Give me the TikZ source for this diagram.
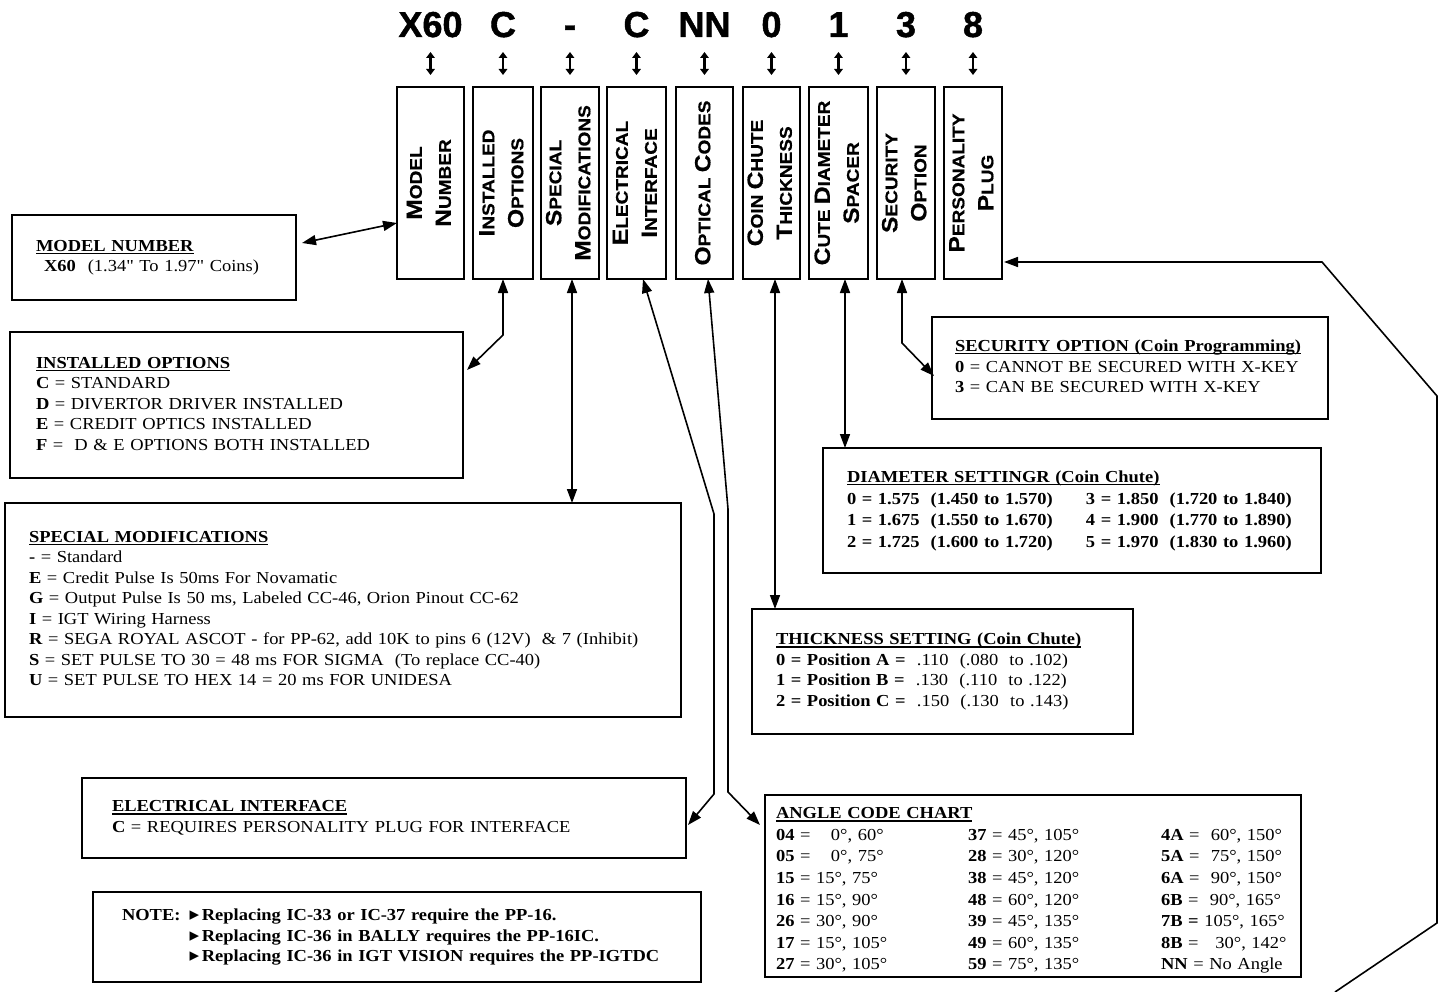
\documentclass[tikz,border=0pt]{standalone}
\usepackage{fontspec}
\usepackage{graphicx}
\setmainfont{Liberation Serif}[FakeStretch=1.1]
\newfontfamily\qfont{Liberation Serif}[FakeStretch=1.1]
\newfontfamily\hdrfont{Liberation Sans Bold}[FakeBold=1.2]
\newfontfamily\vfont{Liberation Sans Bold}[FakeStretch=1.12, FakeBold=0.6]
\newfontfamily\dejavu{DejaVu Sans}
\usetikzlibrary{arrows.meta,calc}
\newcommand\SCx[2]{{\fontsize{22}{29}\selectfont #1}#2}
\newcommand\vlab[1]{\makebox[0pt]{\rotatebox{90}{\begin{tabular}{@{}c@{}}#1\end{tabular}}}}
\newcommand\hd[1]{\setbox0\hbox{\bfseries #1}\rlap{\rule[-2.8pt]{\wd0}{1.4pt}}\box0}
\newcommand\tri{{\dejavu\fontsize{19}{19}\selectfont ▸}}
\begin{document}
\begin{tikzpicture}[x=1pt,y=-1pt,
  hdr/.style={font=\hdrfont\fontsize{36}{36}\selectfont, anchor=base, inner sep=0pt, outer sep=0pt},
  vbox/.style={draw, line width=2pt, inner sep=0pt, outer sep=0pt, minimum height=192pt, font=\vfont\fontsize{17}{29}\selectfont},
  ibox/.style={draw, line width=2pt, anchor=north west, align=left, inner ysep=0pt, outer sep=0pt, font=\fontsize{16.8}{20.5}\selectfont},
  conn/.style={line width=1.6pt, -{Triangle[length=14pt,width=10pt]}},
  dconn/.style={line width=1.6pt, {Triangle[length=14pt,width=10pt]}-{Triangle[length=14pt,width=10pt]}},
  tick/.style={line width=2.4pt, {Triangle[length=6pt,width=8.5pt]}-{Triangle[length=6pt,width=8.5pt]}},
]
\useasboundingbox (0,0) rectangle (1442,992);

% header code
\node[hdr] (h1) at (430.5,37) {X60};
\node[hdr] (h2) at (503,37) {C};
\node[hdr] (h3) at (570,37) {-};
\node[hdr] (h4) at (636.5,37) {C};
\node[hdr] (h5) at (704.5,37) {NN};
\node[hdr] (h6) at (771.5,37) {0};
\node[hdr] (h7) at (838.5,37) {1};
\node[hdr] (h8) at (906,37) {3};
\node[hdr] (h9) at (973,37) {8};

% vertical boxes
\node[vbox, minimum width=67pt] (b1) at (430.5,183) {\vlab{\SCx{M}{ODEL}\\\SCx{N}{UMBER}}};
\node[vbox, minimum width=60pt] (b2) at (503,183) {\vlab{\SCx{I}{NSTALLED}\\\SCx{O}{PTIONS}}};
\node[vbox, minimum width=58pt] (b3) at (570,183) {\vlab{\SCx{S}{PECIAL}\\\SCx{M}{ODIFICATIONS}}};
\node[vbox, minimum width=59pt] (b4) at (636.5,183) {\vlab{\SCx{E}{LECTRICAL}\\\SCx{I}{NTERFACE}}};
\node[vbox, minimum width=57pt] (b5) at (704.5,183) {\vlab{\SCx{O}{PTICAL} \SCx{C}{ODES}}};
\node[vbox, minimum width=57pt] (b6) at (771.5,183) {\vlab{\SCx{C}{OIN} \SCx{C}{HUTE}\\\SCx{T}{HICKNESS}}};
\node[vbox, minimum width=59pt] (b7) at (838.5,183) {\vlab{\SCx{C}{UTE} \SCx{D}{IAMETER}\\\SCx{S}{PACER}}};
\node[vbox, minimum width=58pt] (b8) at (906,183) {\vlab{\SCx{S}{ECURITY}\\\SCx{O}{PTION}}};
\node[vbox, minimum width=58pt] (b9) at (973,183) {\vlab{\SCx{P}{ERSONALITY}\\\SCx{P}{LUG}}};

% ticks
\foreach \i in {1,...,9}{
  \draw[tick] ($(h\i.base)+(0,15)$) -- ($(b\i.north)+(0,-12)$);
}

% info boxes
\node[ibox, minimum width=284pt, minimum height=85pt, text width=236pt, inner xsep=24pt] (mn) at (12,215)
 {\begin{tabular}{@{}l@{}}\hd{MODEL NUMBER}\\ \hspace*{8pt}\textbf{X60}\hspace{12pt}(1.34{\qfont"} To 1.97{\qfont"} Coins)\end{tabular}};

\node[ibox, minimum width=453pt, minimum height=146pt, text width=401pt, inner xsep=26pt] (io) at (10,332)
 {\begin{tabular}{@{}l@{}}\hd{INSTALLED OPTIONS}\\
 \textbf{C} = STANDARD\\
 \textbf{D} = DIVERTOR DRIVER INSTALLED\\
 \textbf{E} = CREDIT OPTICS INSTALLED\\
 \textbf{F} =\ \ D \& E OPTIONS BOTH INSTALLED\end{tabular}};

\node[ibox, minimum width=676pt, minimum height=214pt, text width=628pt, inner xsep=24pt, font=\fontsize{16.8}{20.5}\selectfont] (sm) at (5,503)
 {\begin{tabular}{@{}l@{}}\hd{SPECIAL MODIFICATIONS}\\
 \textbf{-} = Standard\\
 \textbf{E} = Credit Pulse Is 50ms For Novamatic\\
 \textbf{G} = Output Pulse Is 50 ms, Labeled CC-46, Orion Pinout CC-62\\
 \textbf{I} = IGT Wiring Harness\\
 \textbf{R} = SEGA ROYAL ASCOT - for PP-62, add 10K to pins 6 (12V)\ \ \& 7 (Inhibit)\\
 \textbf{S} = SET PULSE TO 30 = 48 ms FOR SIGMA\ \ (To replace CC-40)\\
 \textbf{U} = SET PULSE TO HEX 14 = 20 ms FOR UNIDESA\end{tabular}};

\node[ibox, minimum width=604pt, minimum height=80pt, text width=544pt, inner xsep=30pt] (ei) at (82,778)
 {\begin{tabular}{@{}l@{}}\hd{ELECTRICAL INTERFACE}\\
 \textbf{C} = REQUIRES PERSONALITY PLUG FOR INTERFACE\end{tabular}};

\node[ibox, minimum width=608pt, minimum height=90pt, text width=550pt, inner xsep=27pt, font=\bfseries\fontsize{16.8}{20.8}\selectfont] (nb) at (93,892)
 {\begin{tabular}{@{}l@{\hspace{9pt}}l@{}}NOTE: & \tri\,Replacing IC-33 or IC-37 require the PP-16.\\
 & \tri\,Replacing IC-36 in BALLY requires the PP-16IC.\\
 & \tri\,Replacing IC-36 in IGT VISION requires the PP-IGTDC\end{tabular}};

\node[ibox, minimum width=396pt, minimum height=102pt, text width=350pt, inner xsep=23pt] (so) at (932,317)
 {\begin{tabular}{@{}l@{}}\hd{SECURITY OPTION (Coin Programming)}\\
 \textbf{0} = CANNOT BE SECURED WITH X-KEY\\
 \textbf{3} = CAN BE SECURED WITH X-KEY\end{tabular}};

\node[ibox, minimum width=498pt, minimum height=125pt, text width=450pt, inner xsep=24pt, font=\bfseries\fontsize{16.8}{21.5}\selectfont] (ds) at (823,448)
 {\begin{tabular}{@{}p{239pt}@{}l@{}}\multicolumn{2}{@{}l@{}}{\hd{DIAMETER SETTINGR (Coin Chute)}}\\
 0 = 1.575\ \ (1.450 to 1.570) & 3 = 1.850\ \ (1.720 to 1.840)\\
 1 = 1.675\ \ (1.550 to 1.670) & 4 = 1.900\ \ (1.770 to 1.890)\\
 2 = 1.725\ \ (1.600 to 1.720) & 5 = 1.970\ \ (1.830 to 1.960)\end{tabular}};

\node[ibox, minimum width=381pt, minimum height=125pt, text width=333pt, inner xsep=24pt] (ts) at (752,609)
 {\begin{tabular}{@{}l@{}}\hd{THICKNESS SETTING (Coin Chute)}\\
 \textbf{0 = Position A =}\ \ .110\ \ (.080\ \ to .102)\\
 \textbf{1 = Position B =}\ \ .130\ \ (.110\ \ to .122)\\
 \textbf{2 = Position C =}\ \ .150\ \ (.130\ \ to .143)\end{tabular}};

\node[ibox, minimum width=536pt, minimum height=182pt, text width=514pt, inner xsep=11pt, font=\fontsize{16.8}{21.6}\selectfont] (ac) at (765,795)
 {\raisebox{-4pt}[\height][\depth]{\begin{tabular}{@{}p{192pt}@{}p{193pt}@{}l@{}}\multicolumn{3}{@{}l@{}}{\hd{ANGLE CODE CHART}}\\
 \textbf{04} = \hphantom{1}\ 0°, 60° & \textbf{37} = 45°, 105° & \textbf{4A} = \ 60°, 150°\\
 \textbf{05} = \hphantom{1}\ 0°, 75° & \textbf{28} = 30°, 120° & \textbf{5A} = \ 75°, 150°\\
 \textbf{15} = 15°, 75° & \textbf{38} = 45°, 120° & \textbf{6A} = \ 90°, 150°\\
 \textbf{16} = 15°, 90° & \textbf{48} = 60°, 120° & \textbf{6B} = \ 90°, 165°\\
 \textbf{26} = 30°, 90° & \textbf{39} = 45°, 135° & \textbf{7B =} 105°, 165°\\
 \textbf{17} = 15°, 105° & \textbf{49} = 60°, 135° & \textbf{8B} = \ \ 30°, 142°\\
 \textbf{27} = 30°, 105° & \textbf{59} = 75°, 135° & \textbf{NN} = No Angle\end{tabular}}};

% connectors
\draw[dconn] ($(mn.east)+(6,-14.5)$) -- ($(b1.west)+(0,40)$);
\draw[dconn] (b2.south) -- ($(b2.south)+(0,56)$) -- ($(io.north east)+(4,38)$);
\coordinate (t3) at ($(b3.south)+(2,0)$);
\draw[dconn] (t3) -- (t3 |- sm.north);
\draw[dconn] ($(b4.south)+(6.5,0)$) -- (714,514) -- (714,794) -- ($(ei.east)+(2,7)$);
\draw[dconn] ($(b5.south)+(3.5,0)$) -- (728,509) -- (728,792) -- ($(ac.north west)+(-5,30)$);
\coordinate (t6) at ($(b6.south)+(3.5,0)$);
\draw[dconn] (t6) -- (t6 |- ts.north);
\coordinate (t7) at ($(b7.south)+(6.5,0)$);
\draw[dconn] (t7) -- (t7 |- ds.north);
\draw[dconn] ($(b8.south)+(-4,0)$) -- ($(b8.south)+(-4,64)$) -- ($(so.west)+(2,8)$);
\coordinate (pp) at (1335,992);
\draw[conn] (pp) -- (1437,923) -- (1437,396) -- (1322,262) -- ($(b9.east)+(2,79)$);
\end{tikzpicture}
\end{document}
